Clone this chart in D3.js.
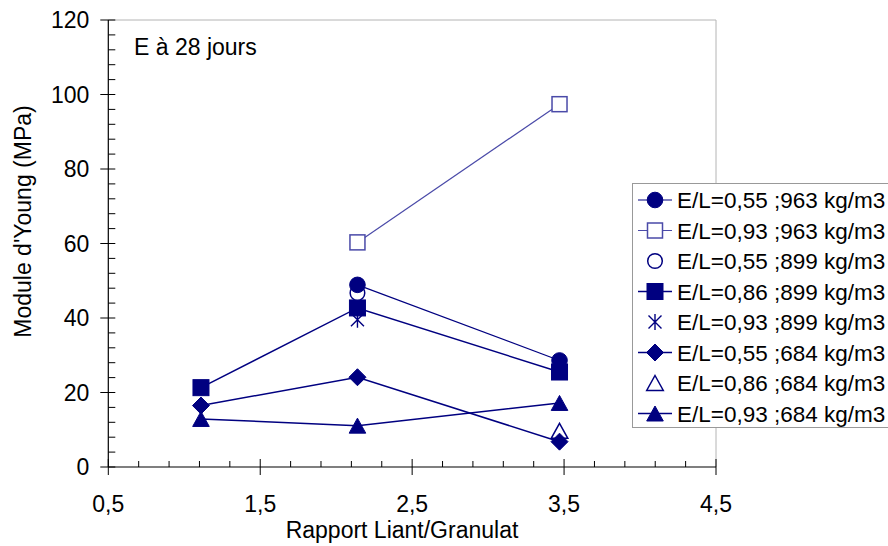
<!DOCTYPE html>
<html><head><meta charset="utf-8">
<script src="https://cdn.jsdelivr.net/npm/d3@7"></script>
<style>body{margin:0;background:#fff}svg{display:block;font-family:"Liberation Sans",Arial,sans-serif}</style>
</head><body><svg id="c" width="888" height="546"></svg>
<script>
const xTicks = [0.5, 1.5, 2.5, 3.5, 4.5];
const xTickLabels = ["0,5", "1,5", "2,5", "3,5", "4,5"];
const yTicks = [0, 20, 40, 60, 80, 100, 120];
const seriesNames = ["E/L=0,55 ;963 kg/m3","E/L=0,93 ;963 kg/m3","E/L=0,55 ;899 kg/m3","E/L=0,86 ;899 kg/m3","E/L=0,93 ;899 kg/m3","E/L=0,55 ;684 kg/m3","E/L=0,86 ;684 kg/m3","E/L=0,93 ;684 kg/m3"];
const s1 = [[2.14, 48.9], [3.47, 28.6]];
const s2 = [[2.14, 60.3], [3.47, 97.4]];
const s3 = [[2.14, 46.7]];
const s4 = [[1.11, 21.3], [2.14, 42.7], [3.47, 25.5]];
const s5 = [[2.14, 39.5]];
const s6 = [[1.11, 16.5], [2.14, 24.1], [3.47, 6.8]];
const s7 = [[3.47, 9.7]];
const s8 = [[1.11, 12.9], [2.14, 11.1], [3.47, 17.2]];
const seriesData = [s1, s2, s3, s4, s5, s6, s7, s8];
const markers = ["circleF", "squareO", "circleO", "squareF", "asterisk", "diamondF", "triangleO", "triangleF"];
const hasLine = [true, true, false, true, false, true, false, true];
const colors = ["#000080", "#4a4aa8", "#000080", "#000080", "#000080", "#000080", "#000080", "#000080"];
const lineW = [1.2, 1.2, 1.5, 1.5, 1.5, 1.5, 1.5, 1.5];

const svg = d3.select("#c");
const L = 108.3, R = 716, T = 20, B = 467;
const x = d3.scaleLinear().domain([0.5, 4.5]).range([L, R]);
const y = d3.scaleLinear().domain([0, 120]).range([B, T]);

// frame
svg.append("path").attr("d", `M${L},${T}H${R}V${B}`).attr("fill", "none").attr("stroke", "#b4b4b4").attr("stroke-width", 1);

// y axis
const yMinor = d3.range(0, 121, 4).filter(v => v % 20 !== 0);
const gy = svg.append("g").attr("transform", `translate(${L},0)`);
gy.selectAll("line.mi").data(yMinor).join("line").attr("x1", 0).attr("x2", 7)
  .attr("y1", d => y(d)).attr("y2", d => y(d)).attr("stroke", "#000").attr("stroke-width", 1);
gy.selectAll("line.ma").data(yTicks).join("line").attr("x1", -8).attr("x2", 7)
  .attr("y1", d => y(d)).attr("y2", d => y(d)).attr("stroke", "#000").attr("stroke-width", 1);
gy.append("line").attr("x1", 0).attr("x2", 0).attr("y1", T).attr("y2", B).attr("stroke", "#000").attr("stroke-width", 1.2);
gy.selectAll("text").data(yTicks).join("text").attr("x", -19).attr("y", d => y(d) + 8)
  .attr("text-anchor", "end").attr("font-size", 23).text(d => d);

// x axis
const xMinor = d3.range(0, 21).map(i => 0.5 + i * 0.2).filter(v => Math.abs((v - 0.5) % 1) > 0.01 && Math.abs((v - 0.5) % 1 - 1) > 0.01);
const gx = svg.append("g").attr("transform", `translate(0,${B})`);
gx.selectAll("line.mi").data(xMinor).join("line").attr("y1", 0).attr("y2", -6)
  .attr("x1", d => x(d)).attr("x2", d => x(d)).attr("stroke", "#000").attr("stroke-width", 1);
gx.selectAll("line.ma").data(xTicks).join("line").attr("y1", -8).attr("y2", 8)
  .attr("x1", d => x(d)).attr("x2", d => x(d)).attr("stroke", "#000").attr("stroke-width", 1);
gx.append("line").attr("x1", L).attr("x2", R).attr("y1", 0).attr("y2", 0).attr("stroke", "#000").attr("stroke-width", 1.2);
gx.selectAll("text").data(xTicks).join("text").attr("x", d => x(d)).attr("y", 45)
  .attr("text-anchor", "middle").attr("font-size", 23).text((d, i) => xTickLabels[i]);

// titles
svg.append("text").attr("x", 402).attr("y", 538).attr("text-anchor", "middle").attr("font-size", 23).text("Rapport Liant/Granulat");
svg.append("text").attr("transform", "translate(31,221.5) rotate(-90)").attr("text-anchor", "middle").attr("font-size", 23).text("Module d'Young (MPa)");
svg.append("text").attr("x", 134).attr("y", 55).attr("font-size", 23).text("E à 28 jours");

// marker drawing
function drawMarker(g, type, cx, cy, color) {
  const fill = type.endsWith("F") ? color : "#fff";
  if (type.startsWith("circle")) {
    g.append("circle").attr("cx", cx).attr("cy", cy).attr("r", type.endsWith("F") ? 7.8 : 7.3)
      .attr("fill", fill).attr("stroke", color).attr("stroke-width", type.endsWith("F") ? 1 : 1.5);
  } else if (type.startsWith("square")) {
    const h = type.endsWith("F") ? 8 : 7.5;
    g.append("rect").attr("x", cx - h).attr("y", cy - h).attr("width", 2 * h).attr("height", 2 * h)
      .attr("fill", fill).attr("stroke", color).attr("stroke-width", type.endsWith("F") ? 1 : 1.5);
  } else if (type.startsWith("diamond")) {
    g.append("path").attr("d", `M${cx},${cy - 8.5}L${cx + 8.5},${cy}L${cx},${cy + 8.5}L${cx - 8.5},${cy}Z`)
      .attr("fill", fill).attr("stroke", color).attr("stroke-width", 1);
  } else if (type.startsWith("triangle")) {
    g.append("path").attr("d", `M${cx},${cy - 7.5}L${cx + 8.3},${cy + 7.5}L${cx - 8.3},${cy + 7.5}Z`)
      .attr("fill", fill).attr("stroke", color).attr("stroke-width", type.endsWith("F") ? 1 : 1.5);
  } else if (type === "asterisk") {
    const r = 8, a = 6.5, b = 6.5;
    g.append("path").attr("d", `M${cx},${cy - r}V${cy + r}M${cx - a},${cy - b}L${cx + a},${cy + b}M${cx - a},${cy + b}L${cx + a},${cy - b}`)
      .attr("fill", "none").attr("stroke", color).attr("stroke-width", 1.4);
  }
}

const line = d3.line().x(d => x(d[0])).y(d => y(d[1]));
const gp = svg.append("g");
seriesData.forEach((data, i) => {
  if (hasLine[i]) gp.append("path").attr("d", line(data)).attr("fill", "none").attr("stroke", colors[i]).attr("stroke-width", lineW[i]);
});
for (let i = seriesData.length - 1; i >= 0; i--) {
  seriesData[i].forEach(d => drawMarker(gp, markers[i], x(d[0]), y(d[1]), colors[i]));
}

// legend
const lg = svg.append("g");
lg.append("rect").attr("x", 632.5).attr("y", 183.5).attr("width", 280).attr("height", 244)
  .attr("fill", "#fff").attr("stroke", "#999").attr("stroke-width", 1);
seriesNames.forEach((name, i) => {
  const cy = 200 + i * 30.5;
  if (hasLine[i]) lg.append("line").attr("x1", 638).attr("x2", 672).attr("y1", cy).attr("y2", cy).attr("stroke", colors[i]).attr("stroke-width", lineW[i]);
  drawMarker(lg, markers[i], 655, cy, colors[i]);
  lg.append("text").attr("x", 677).attr("y", cy + 8).attr("font-size", 22.5).text(name);
});
</script></body></html>
